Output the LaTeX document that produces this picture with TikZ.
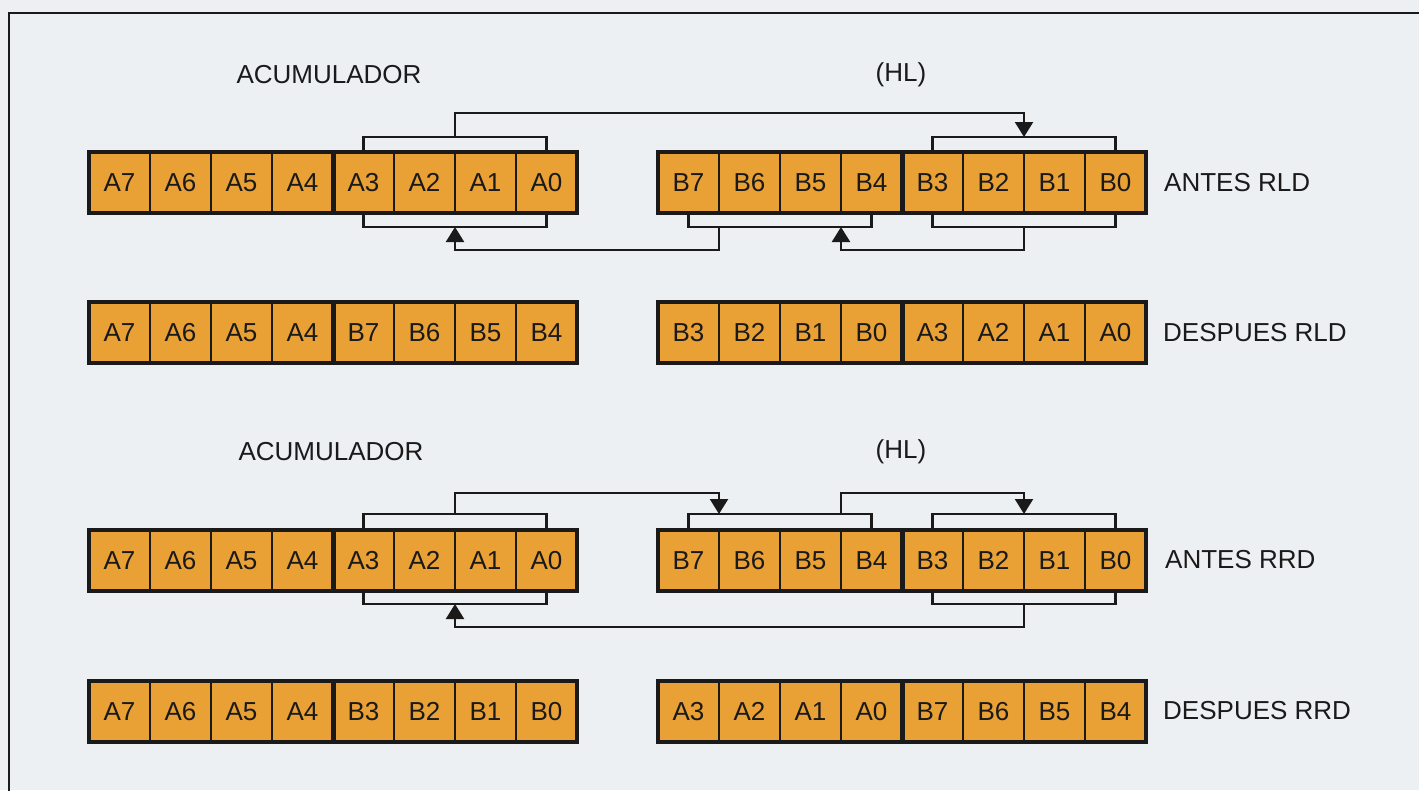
\documentclass[tikz,border=0pt]{standalone}
\usepackage{fontspec}
\setmainfont{Liberation Sans}
\usetikzlibrary{arrows.meta,calc}
\definecolor{bgc}{HTML}{EDF0F3}
\definecolor{cellfill}{HTML}{E9A034}
\definecolor{ink}{HTML}{1A1A1A}
\tikzset{
  cell/.style={draw=ink, line width=2pt, fill=cellfill, minimum width=61pt,
    minimum height=61pt, inner sep=0pt, outer sep=0pt,
    font=\fontsize{26}{26}\selectfont, text=ink},
  regframe/.style={draw=ink, line width=4.5pt},
  regdiv/.style={draw=ink, line width=5pt},
  link/.style={draw=ink, line width=2.3pt},
  arr/.style={link, -{Triangle[width=18pt,length=15pt]}},
  lbl/.style={font=\fontsize{26}{26}\selectfont, text=ink, inner sep=0pt},
}
\newcommand\mkreg[4]{%
  \foreach \t [count=\i from 0] in {#4} {
    \node[cell] (#1\i) at ({#2+61*\i+30.5},{#3+30.5}) {\t};
  }
  \draw[regframe] (#10.north west) rectangle (#17.south east);
  \draw[regdiv] (#13.north east) -- (#13.south east);
}
\begin{document}
\begin{tikzpicture}[x=1pt,y=-1pt]
\fill[bgc] (0,0) rectangle (1419,790);
\useasboundingbox (0,0) rectangle (1419,790);
\draw[draw=ink, line width=2pt] (9,791) -- (9,13) -- (1420,13);

% titles
\node[lbl] (acc1) at (329,75) {ACUMULADOR};
\node[lbl] (hl1) at (901,75) {(HL)};
\node[lbl] (acc3) at (331,452) {ACUMULADOR};
\node[lbl] (hl3) at (901,452) {(HL)};

% registers
\mkreg{r1L}{89}{152}{A7,A6,A5,A4,A3,A2,A1,A0}
\mkreg{r1R}{658}{152}{B7,B6,B5,B4,B3,B2,B1,B0}
\mkreg{r2L}{89}{302}{A7,A6,A5,A4,B7,B6,B5,B4}
\mkreg{r2R}{658}{302}{B3,B2,B1,B0,A3,A2,A1,A0}
\mkreg{r3L}{89}{530}{A7,A6,A5,A4,A3,A2,A1,A0}
\mkreg{r3R}{658}{530}{B7,B6,B5,B4,B3,B2,B1,B0}
\mkreg{r4L}{89}{681}{A7,A6,A5,A4,B3,B2,B1,B0}
\mkreg{r4R}{658}{681}{A3,A2,A1,A0,B7,B6,B5,B4}

% right labels
\node[lbl, anchor=west] (t1) at (1164,183) {ANTES RLD};
\node[lbl, anchor=west] (t2) at (1163,333) {DESPUES RLD};
\node[lbl, anchor=west] (t3) at (1165,560) {ANTES RRD};
\node[lbl, anchor=west] (t4) at (1163,711) {DESPUES RRD};

% ---- RLD connectors ----
\draw[link] (r1L4.north) -- ++(0,-15) -| (r1L7.north);
\draw[link] (r1R4.north) -- ++(0,-15) -| (r1R7.north);
\draw[arr] ($(r1L5.north east)+(0,-15)$) -- ++(0,-24) -| ($(r1R5.north east)+(0,-15)$);
\draw[link] (r1L4.south) -- ++(0,14) -| (r1L7.south);
\draw[link] (r1R0.south) -- ++(0,14) -| (r1R3.south);
\draw[link] (r1R4.south) -- ++(0,14) -| (r1R7.south);
\draw[arr] ($(r1R0.south east)+(0,14)$) -- ++(0,23) -| ($(r1L5.south east)+(0,14)$);
\draw[arr] ($(r1R5.south east)+(0,14)$) -- ++(0,23) -| ($(r1R2.south east)+(0,14)$);

% ---- RRD connectors ----
\draw[link] (r3L4.north) -- ++(0,-16) -| (r3L7.north);
\draw[link] (r3R0.north) -- ++(0,-16) -| (r3R3.north);
\draw[link] (r3R4.north) -- ++(0,-16) -| (r3R7.north);
\draw[arr] ($(r3L5.north east)+(0,-16)$) -- ++(0,-21) -| ($(r3R0.north east)+(0,-16)$);
\draw[arr] ($(r3R2.north east)+(0,-16)$) -- ++(0,-21) -| ($(r3R5.north east)+(0,-16)$);
\draw[link] (r3L4.south) -- ++(0,13) -| (r3L7.south);
\draw[link] (r3R4.south) -- ++(0,13) -| (r3R7.south);
\draw[arr] ($(r3R5.south east)+(0,13)$) -- ++(0,23) -| ($(r3L5.south east)+(0,13)$);
\end{tikzpicture}
\end{document}
